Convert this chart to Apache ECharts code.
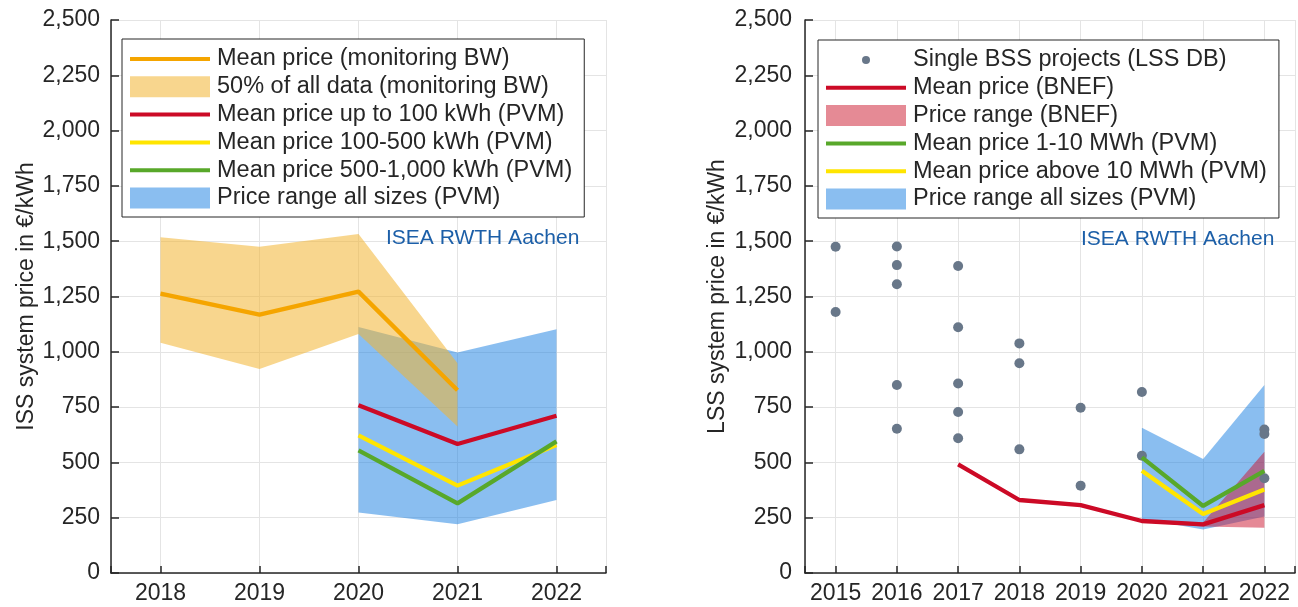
<!DOCTYPE html>
<html>
<head>
<meta charset="utf-8">
<title>Battery storage system prices</title>
<script src="https://cdn.jsdelivr.net/npm/echarts@6/dist/echarts.min.js"></script>
<style>
  html, body { margin: 0; padding: 0; background: #fff; }
  #main { width: 1298px; height: 607px; }
</style>
</head>
<body>
<div id="main"></div>
<script>
// ---- left panel: ISS prices ----
var bwYears = [2018, 2019, 2020, 2021];
var bwMean = [1263, 1168, 1272, 826];
var bwLow = [1041, 922, 1080, 662];
var bwHigh = [1518, 1475, 1533, 948];

var pvmIssYears = [2020, 2021, 2022];
var pvmUpTo100 = [758, 583, 711];
var pvm100to500 = [622, 395, 579];
var pvm500to1000 = [554, 315, 595];
var pvmIssLow = [274, 220, 330];
var pvmIssHigh = [1112, 997, 1102];

// ---- right panel: LSS prices ----
var projYears = [2015, 2015, 2016, 2016, 2016, 2016, 2016, 2017, 2017, 2017, 2017, 2017,
                 2018, 2018, 2018, 2019, 2019, 2020, 2020, 2022, 2022, 2022];
var projPrices = [1475, 1180, 1476, 1392, 1305, 850, 652, 1388, 1111, 857, 728, 609,
                  1038, 948, 559, 747, 395, 818, 530, 649, 628, 428];

var bnefYears = [2017, 2018, 2019, 2020, 2021, 2022];
var bnefMean = [491, 330, 307, 235, 220, 307];
var bnefLow = [488, 325, 302, 230, 210, 205];
var bnefHigh = [494, 335, 312, 240, 228, 548];

var pvmLssYears = [2020, 2021, 2022];
var pvm1to10 = [523, 303, 462];
var pvmAbove10 = [462, 267, 378];
var pvmLssLow = [245, 197, 255];
var pvmLssHigh = [657, 515, 850];

var font = '"Liberation Sans", Arial, sans-serif';
var ink = '#262626';
var cOrange = '#f5a500', cRed = '#cc0a26', cYellow = '#ffe500', cGreen = '#58a82a';
var cDot = '#687789';

var LINE_ICON = 'path://M0,0M80,22M0,9H80V13H0Z';
var RECT_ICON = 'path://M0,0M80,22M0,0.5H80V21.5H0Z';
var DOT_ICON = 'path://M0,0M80,22M44,11A4,4,0,1,1,36,11A4,4,0,1,1,44,11Z';

function pairs(xs, ys) {
  return xs.map(function (x, i) { return [x, ys[i]]; });
}

function lineSeries(name, xs, ys, color, idx) {
  return {
    name: name, type: 'line', xAxisIndex: idx, yAxisIndex: idx,
    data: pairs(xs, ys), symbol: 'none', smooth: false,
    lineStyle: { color: color, width: 4.3 }, itemStyle: { color: color },
    silent: true
  };
}

function bandSeries(name, xs, lows, highs, fill, idx) {
  var rows = xs.map(function (x, i) { return [x, lows[i], highs[i]]; });
  return {
    name: name, type: 'custom', xAxisIndex: idx, yAxisIndex: idx,
    data: rows, encode: { x: 0, y: [1, 2] },
    itemStyle: { color: fill }, silent: true,
    renderItem: function (params, api) {
      if (params.dataIndex !== 0) return null;
      var top = rows.map(function (r) { return api.coord([r[0], r[2]]); });
      var bottom = rows.map(function (r) { return api.coord([r[0], r[1]]); }).reverse();
      return { type: 'polygon', shape: { points: top.concat(bottom) }, style: { fill: fill } };
    }
  };
}

function xAxisCfg(idx, min, max, n) {
  return {
    type: 'value', gridIndex: idx, min: min, max: max, splitNumber: n,
    axisLine: { show: true, onZero: false, lineStyle: { color: ink, width: 1.5 } },
    axisTick: { show: true, inside: true, length: 7, lineStyle: { color: ink, width: 1.5 } },
    axisLabel: {
      fontSize: 23, fontFamily: font, color: ink, margin: 9,
      formatter: function (v) { return v % 1 === 0 ? String(v) : ''; }
    },
    splitLine: { show: true, lineStyle: { color: '#e4e4e4', width: 1 } }
  };
}

function yAxisCfg(idx, name, gap, margin) {
  return {
    type: 'value', gridIndex: idx, min: 0, max: 2500, interval: 250,
    name: name, nameLocation: 'middle', nameGap: gap,
    nameTextStyle: { fontSize: 23, fontFamily: font, color: ink },
    axisLine: { show: true, lineStyle: { color: ink, width: 1.5 } },
    axisTick: { show: true, inside: true, length: 8, lineStyle: { color: ink, width: 1.5 } },
    axisLabel: {
      fontSize: 23, fontFamily: font, color: ink, margin: margin,
      formatter: function (v) { return v.toLocaleString('en-US'); }
    },
    splitLine: { show: true, lineStyle: { color: '#e4e4e4', width: 1 } }
  };
}

function legendCfg(left, top, items) {
  return {
    orient: 'vertical', left: left, top: top,
    itemWidth: 80, itemHeight: 22, itemGap: 3.8,
    padding: [8, 12, 7, 8],
    backgroundColor: '#fff', borderColor: ink, borderWidth: 1,
    selectedMode: false,
    itemStyle: { borderWidth: 0 },
    textStyle: { fontSize: 23.5, fontFamily: font, color: ink, lineHeight: 22, padding: [0, 0, 0, 2] },
    data: items
  };
}

var myChart = echarts.init(document.getElementById('main'));
var option = {
  animation: false,
  backgroundColor: '#fff',
  title: [
    { text: 'ISEA RWTH Aachen', left: 386, top: 228, padding: 0,
      textStyle: { fontSize: 21, fontWeight: 'normal', fontFamily: font, color: '#1c5fa8' } },
    { text: 'ISEA RWTH Aachen', left: 1081, top: 229, padding: 0,
      textStyle: { fontSize: 21, fontWeight: 'normal', fontFamily: font, color: '#1c5fa8' } }
  ],
  grid: [
    { left: 111, top: 20, width: 495, height: 553 },
    { left: 805, top: 20, width: 496, height: 553 }
  ],
  xAxis: [xAxisCfg(0, 2017.5, 2022.5, 5), xAxisCfg(1, 2014.5, 2022.5, 8)],
  yAxis: [
    yAxisCfg(0, 'ISS system price in €/kWh', 72, 11),
    yAxisCfg(1, 'LSS system price in €/kWh', 76, 13)
  ],
  legend: [
    legendCfg(122, 39, [
      { name: 'Mean price (monitoring BW)', icon: LINE_ICON, itemStyle: { color: cOrange } },
      { name: '50% of all data (monitoring BW)', icon: RECT_ICON, itemStyle: { color: '#f8d68e' } },
      { name: 'Mean price up to 100 kWh (PVM)', icon: LINE_ICON, itemStyle: { color: cRed } },
      { name: 'Mean price 100-500 kWh (PVM)', icon: LINE_ICON, itemStyle: { color: cYellow } },
      { name: 'Mean price 500-1,000 kWh (PVM)', icon: LINE_ICON, itemStyle: { color: cGreen } },
      { name: 'Price range all sizes (PVM)', icon: RECT_ICON, itemStyle: { color: '#8abef0' } }
    ]),
    legendCfg(818, 40, [
      { name: 'Single BSS projects (LSS DB)', icon: DOT_ICON, itemStyle: { color: cDot } },
      { name: 'Mean price (BNEF)', icon: LINE_ICON, itemStyle: { color: cRed } },
      { name: 'Price range (BNEF)', icon: RECT_ICON, itemStyle: { color: '#e58a95' } },
      { name: 'Mean price 1-10 MWh (PVM)', icon: LINE_ICON, itemStyle: { color: cGreen } },
      { name: 'Mean price above 10 MWh (PVM)', icon: LINE_ICON, itemStyle: { color: cYellow } },
      { name: 'Price range all sizes (PVM) ', icon: RECT_ICON, itemStyle: { color: '#8abef0' } }
    ])
  ],
  series: [
    // left panel
    bandSeries('Price range all sizes (PVM)', pvmIssYears, pvmIssLow, pvmIssHigh, 'rgba(21,125,225,0.5)', 0),
    bandSeries('50% of all data (monitoring BW)', bwYears, bwLow, bwHigh, 'rgba(242,180,50,0.55)', 0),
    lineSeries('Mean price (monitoring BW)', bwYears, bwMean, cOrange, 0),
    lineSeries('Mean price up to 100 kWh (PVM)', pvmIssYears, pvmUpTo100, cRed, 0),
    lineSeries('Mean price 100-500 kWh (PVM)', pvmIssYears, pvm100to500, cYellow, 0),
    lineSeries('Mean price 500-1,000 kWh (PVM)', pvmIssYears, pvm500to1000, cGreen, 0),
    // right panel
    bandSeries('Price range all sizes (PVM) ', pvmLssYears, pvmLssLow, pvmLssHigh, 'rgba(21,125,225,0.5)', 1),
    bandSeries('Price range (BNEF)', bnefYears, bnefLow, bnefHigh, 'rgba(204,20,45,0.5)', 1),
    lineSeries('Mean price (BNEF)', bnefYears, bnefMean, cRed, 1),
    lineSeries('Mean price above 10 MWh (PVM)', pvmLssYears, pvmAbove10, cYellow, 1),
    lineSeries('Mean price 1-10 MWh (PVM)', pvmLssYears, pvm1to10, cGreen, 1),
    {
      name: 'Single BSS projects (LSS DB)', type: 'scatter', xAxisIndex: 1, yAxisIndex: 1,
      data: pairs(projYears, projPrices), symbol: 'circle', symbolSize: 10,
      itemStyle: { color: cDot, opacity: 1 }, silent: true
    }
  ]
};
option && myChart.setOption(option);
</script>
</body>
</html>
